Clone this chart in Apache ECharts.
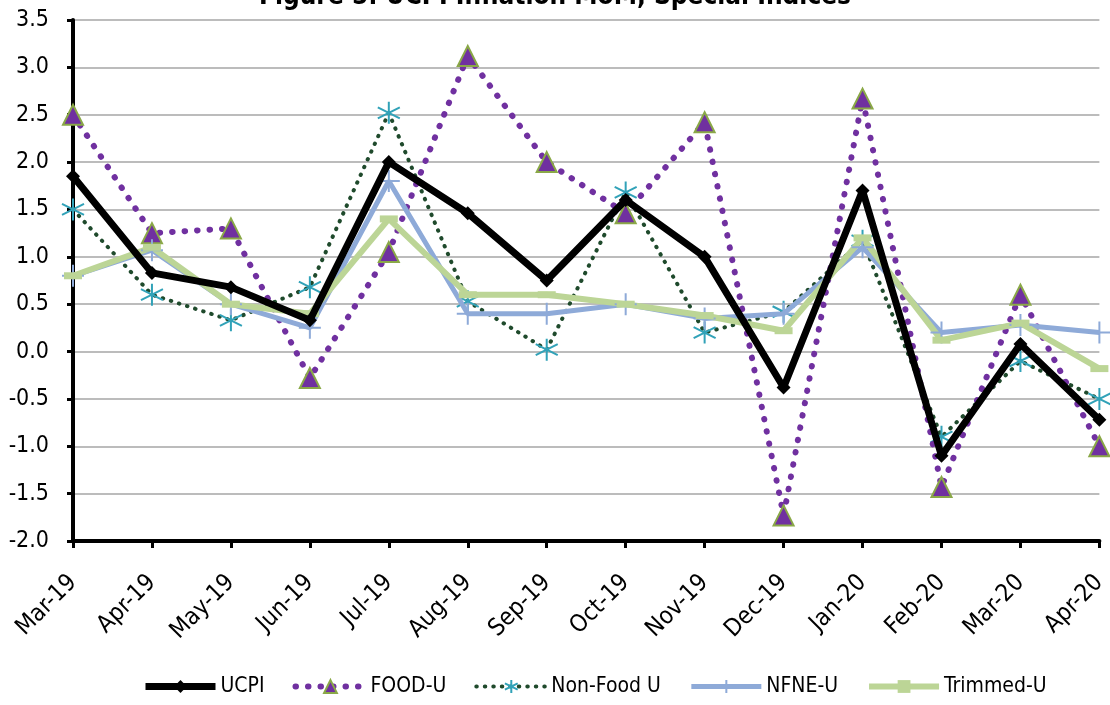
<!DOCTYPE html>
<html>
<head>
<meta charset="utf-8">
<script src="https://cdn.jsdelivr.net/npm/echarts@6/dist/echarts.min.js"></script>
<style>html,body{margin:0;padding:0;background:#fff;}#c{width:1110px;height:705px;}</style>
</head>
<body>
<div id="c"></div>
<script>
const categories = ['Mar-19','Apr-19','May-19','Jun-19','Jul-19','Aug-19','Sep-19','Oct-19','Nov-19','Dec-19','Jan-20','Feb-20','Mar-20','Apr-20'];
const ucpi     = [1.85, 0.83, 0.68, 0.33, 2.0, 1.46, 0.75, 1.6, 1.0, -0.38, 1.7, -1.1, 0.08, -0.72];
const foodU    = [2.5, 1.25, 1.3, -0.28, 1.05, 3.12, 2.0, 1.46, 2.42, -1.73, 2.67, -1.43, 0.6, -1.0];
const nonFoodU = [1.5, 0.6, 0.33, 0.68, 2.52, 0.53, 0.02, 1.68, 0.2, 0.42, 1.17, -0.9, -0.1, -0.5];
const nfneU    = [0.8, 1.07, 0.5, 0.25, 1.8, 0.4, 0.4, 0.5, 0.35, 0.4, 1.1, 0.2, 0.28, 0.2];
const trimmedU = [0.8, 1.1, 0.5, 0.4, 1.4, 0.6, 0.6, 0.5, 0.38, 0.22, 1.2, 0.12, 0.3, -0.18];
const yTicks = {min: -2.0, max: 3.5, step: 0.5};

const FONT = '"Liberation Sans Narrow", "DejaVu Sans Condensed", "Roboto Condensed", sans-serif';
const chart = echarts.init(document.getElementById('c'));
const asterisk = 'path://M5,0 L5,10 M0.7,2.5 L9.3,7.5 M0.7,7.5 L9.3,2.5';
const plus = 'path://M5,0 L5,10 M0,5 L10,5';

chart.setOption({
  backgroundColor: '#ffffff',
  animation: false,
  title: {
    text: 'Figure 5: UCPI Inflation MoM, Special Indices',
    left: 'center', top: -16, padding: 0,
    textStyle: {fontFamily: FONT, fontWeight: 'bold', fontSize: 26, color: '#000'}
  },
  legend: {
    bottom: 8, left: 142, padding: 0,
    itemWidth: 70, itemHeight: 16, itemGap: 28,
    lineStyle: {width: 'inherit'},
    textStyle: {fontFamily: FONT, fontSize: 21, color: '#000'},
    data: ['UCPI','FOOD-U','Non-Food U','NFNE-U','Trimmed-U']
  },
  grid: {left: 73, right: 6, top: 20, bottom: 164, containLabel: false},
  xAxis: {
    type: 'category', data: categories, boundaryGap: false,
    axisLine: {onZero: false, lineStyle: {color: '#000', width: 4}},
    axisTick: {show: true, alignWithLabel: true, length: 7, lineStyle: {color: '#000', width: 3}},
    axisLabel: {rotate: 45, fontFamily: FONT, fontSize: 24, color: '#000', margin: 38, interval: 0},
    splitLine: {show: false}
  },
  yAxis: {
    type: 'value', min: yTicks.min, max: yTicks.max, interval: yTicks.step,
    axisLine: {show: true, lineStyle: {color: '#000', width: 4}},
    axisTick: {show: true, length: 6, lineStyle: {color: '#000', width: 3}},
    axisLabel: {fontFamily: FONT, fontSize: 23, color: '#000', margin: 24, formatter: v => v.toFixed(1)},
    splitLine: {show: true, lineStyle: {color: '#a6a6a6', width: 1.5}}
  },
  series: [
    {
      name: 'UCPI', type: 'line', data: ucpi, z: 5,
      symbol: 'diamond', symbolSize: 14,
      lineStyle: {color: '#000', width: 7},
      itemStyle: {color: '#000'}
    },
    {
      name: 'FOOD-U', type: 'line', data: foodU, z: 3,
      symbol: 'triangle', symbolSize: 20,
      lineStyle: {color: '#7030a0', width: 6, type: [0.5, 12], cap: 'round'},
      itemStyle: {color: '#7030a0', borderColor: '#8aa847', borderWidth: 2}
    },
    {
      name: 'Non-Food U', type: 'line', data: nonFoodU, z: 2,
      symbol: asterisk, symbolSize: 22,
      lineStyle: {color: '#1f4a2c', width: 4, type: [0.5, 8], cap: 'round'},
      itemStyle: {color: 'rgba(0,0,0,0)', borderColor: '#31a2b8', borderWidth: 2}
    },
    {
      name: 'NFNE-U', type: 'line', data: nfneU, z: 4,
      symbol: plus, symbolSize: 22,
      lineStyle: {color: '#8eaad8', width: 5},
      itemStyle: {color: 'rgba(0,0,0,0)', borderColor: '#8eaad8', borderWidth: 2}
    },
    {
      name: 'Trimmed-U', type: 'line', data: trimmedU, z: 4,
      symbol: 'rect', symbolSize: [18, 7],
      lineStyle: {color: '#bcd596', width: 6},
      itemStyle: {color: '#bcd596'}
    }
  ]
});
</script>
</body>
</html>
